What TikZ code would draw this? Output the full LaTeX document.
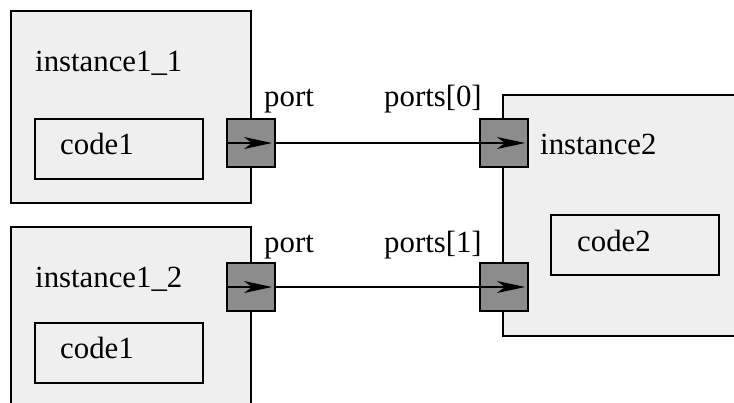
\documentclass[tikz,border=0pt]{standalone}
\usepackage{fontspec}
\setmainfont{Liberation Serif}
\usetikzlibrary{arrows.meta}
\definecolor{boxfill}{HTML}{EFEFEF}
\definecolor{portfill}{HTML}{8C8C8C}
\tikzset{
  inst/.style={draw=black, line width=1.1pt, fill=boxfill},
  codebox/.style={draw=black, line width=1.1pt, fill=boxfill},
  portbox/.style={draw=black, line width=1.1pt, fill=portfill, minimum size=48pt, inner sep=0pt, outer sep=0pt},
  lbl/.style={anchor=base west, inner sep=0pt, font=\fontsize{30.8}{36}\selectfont},
  flow/.style={line width=1.1pt, -{Stealth[length=28pt,width=12pt,inset=8pt]}},
  wire/.style={line width=1.1pt}
}
\begin{document}
\begin{tikzpicture}[x=1pt,y=-1pt]
\useasboundingbox (0,0) rectangle (734,403);
\begin{scope}
\clip (0,0) rectangle (734,403);
% component instances
\draw[inst] (11,11) rectangle (251,203);
\draw[inst] (11,227) rectangle (251,420);
\draw[inst] (503,95) rectangle (750,336);
% code blocks
\draw[codebox] (35,119) rectangle (203,179);
\draw[codebox] (35,323) rectangle (203,383);
\draw[codebox] (551,215) rectangle (719,275);
\end{scope}
% instance and code labels
\node[lbl] (n11) at (35,72) {instance1\_1};
\node[lbl] (n12) at (35,288) {instance1\_2};
\node[lbl] (n2) at (540,155) {instance2};
\node[lbl] (c11) at (60,155) {code1};
\node[lbl] (c12) at (60,359) {code1};
\node[lbl] (c2) at (577,252) {code2};
% ports
\node[portbox] (p1) at (251,143) {};
\node[portbox] (p2) at (251,287) {};
\node[portbox] (q0) at (504,143) {};
\node[portbox] (q1) at (504,287) {};
% port labels
\node[lbl] (lp1) at (264,107) {port};
\node[lbl] (lp2) at (264,253) {port};
\node[lbl] (lq0) at (384,107) {ports[0]};
\node[lbl] (lq1) at (384,253) {ports[1]};
% connections
\foreach \p in {p1,p2,q0,q1}{
  \draw[flow] (\p.west) -- ([xshift=-3pt]\p.east);
}
\draw[wire] (p1.east) -- (q0.west);
\draw[wire] (p2.east) -- (q1.west);
\end{tikzpicture}
\end{document}
